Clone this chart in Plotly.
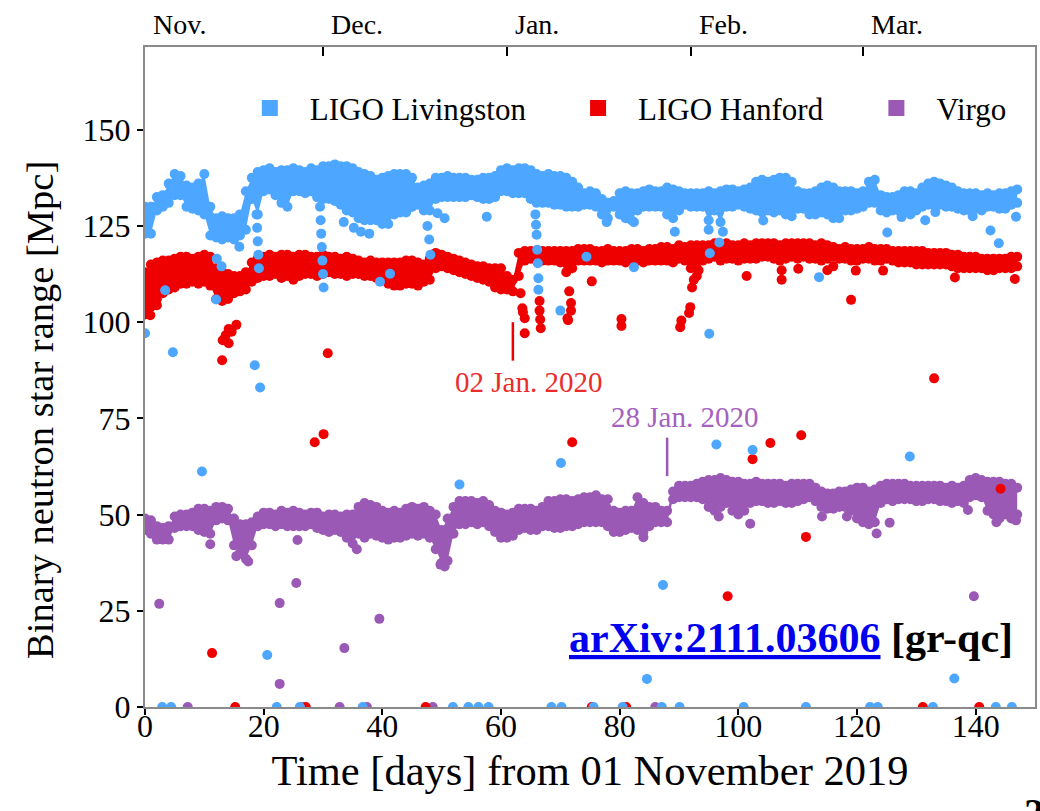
import plotly.graph_objects as go

# ---------------------------------------------------------------------------
# Binary neutron star range of the three detectors during O3b.
# Each detector: daily upper / lower edge of the dense cloud of range samples,
# plus individual excursions (dips, outliers) and samples sitting at 0 Mpc.
# ---------------------------------------------------------------------------
DAYS = list(range(148))

LIV_UPPER = [
    130, 130, 132.5, 133, 136, 138.5, 138, 135.5, 135, 136,
    138.5, 130, 127, 127.5, 127, 127, 128, 134, 137.5, 139,
    139.5, 140, 139, 139.5, 139.5, 140, 139.5, 139, 140, 139.5,
    140.5, 140.5, 141, 140.5, 140.5, 140, 139, 138.5, 138, 137,
    137.5, 138, 138.5, 138.5, 138.5, 137.5, 135, 135.5, 136, 137.5,
    137.5, 138, 137.5, 137.5, 137.5, 137, 137, 137.5, 137.5, 138,
    139.5, 140, 139.5, 140, 140, 139.5, 138.5, 138, 138.5, 138,
    138, 137.5, 136.5, 135, 133.5, 134, 133.5, 132, 131, 131.5,
    133.5, 134, 133.5, 133.5, 134, 134.5, 134, 134, 135, 134.5,
    134, 133.5, 133.5, 133.5, 133.5, 134, 133.5, 134, 134.5, 134.5,
    134, 134.5, 135, 136.5, 137, 136.5, 137, 137.5, 137.5, 136.5,
    134, 133.5, 133.5, 134, 135, 135.5, 135, 134, 134, 134,
    133.5, 134, 136.5, 137, 133, 132.5, 132.5, 133, 134, 134,
    133.5, 135, 136, 136.5, 136, 135.5, 135, 134, 133.5, 133.5,
    133.5, 133, 133.5, 133, 133.5, 133.5, 134, 134.5,
]
LIV_LOWER = [
    123, 123, 129, 130, 131, 133, 133, 130, 129.5, 129,
    128, 122.5, 122, 121.5, 122, 121.5, 122.5, 124, 132, 128,
    134, 134.5, 133, 131, 130, 134, 134, 133.5, 134, 132.5,
    132, 132, 131.5, 130.5, 129, 128.5, 127, 126.5, 126.5, 126.5,
    125.5, 125.5, 128, 128.5, 128.5, 130, 130.5, 129, 129, 132,
    132.5, 132.5, 132.5, 132.5, 132.5, 133, 132.5, 132, 132, 132.5,
    134, 134, 133.5, 133.5, 133.5, 132, 131, 131, 131, 130.5,
    130.5, 130, 130, 130, 130.5, 130.5, 130, 128, 127, 130,
    128, 127, 126.5, 129, 130, 130, 130, 130, 128, 127,
    129, 130.5, 130, 130, 130, 126.5, 129, 126, 130, 130,
    130.5, 130, 129.5, 129, 128.5, 129, 128.5, 129, 128, 127.5,
    129.5, 129.5, 128, 128, 128.5, 128, 127, 127, 129, 129,
    129.5, 130, 131, 131, 129, 128.5, 129, 129, 129, 128,
    129, 130, 130.5, 130.5, 130.5, 130, 130, 129.5, 129, 129,
    129.5, 129, 130, 130, 129.5, 129.5, 130.5, 131,
]
LIV_EXTRA_DAY = [
    0.0, 3.4, 4.7, 9.6, 12.0, 12.1, 12.9, 15.9, 18.5, 18.8, 18.9, 19.0, 19.1,
    19.2, 19.4, 20.6, 29.5, 29.6, 29.7, 29.8, 29.9, 30.0, 30.1, 33.5, 35.2, 36.4,
    37.8, 39.6, 41.3, 45.0, 47.6, 47.9, 48.1, 49.3, 50.5, 53.0, 57.6, 65.8, 65.9,
    66.0, 66.1, 66.2, 66.3, 66.3, 70.0, 70.1, 74.4, 77.8, 82.4, 82.4, 84.6, 87.3,
    89.3, 95.0, 95.1, 95.2, 96.3, 96.8, 97.4, 102.4, 104.2, 113.6, 125.1, 127.5,
    128.9, 131.5, 133.2, 136.4, 139.5, 142.5, 143.9, 146.8,
]
LIV_EXTRA_MPC = [
    97.1, 108.3, 92.2, 61.2, 105.9, 116.5, 114.5, 119.6, 88.8, 128.0, 124.5, 121.0, 117.5,
    114.0, 83.0, 13.5, 130.0, 126.5, 123.0, 119.5, 116.0, 112.5, 109.0, 126.0, 124.5, 123.5,
    123.0, 110.5, 112.6, 130.0, 125.0, 121.5, 117.5, 128.3, 127.0, 57.8, 127.4, 128.0, 125.3,
    122.7, 118.8, 115.3, 111.4, 108.4, 103.0, 63.4, 117.0, 126.0, 114.3, 126.0, 7.3, 31.7,
    123.5, 124.0, 97.0, 117.9, 68.2, 120.7, 123.5, 66.8, 126.4, 111.7, 123.3, 127.3,
    65.1, 126.5, 128.6, 7.4, 127.5, 123.8, 120.5, 127.4,
]
LIV_ZERO_DAYS = [2.9, 4.4, 22.2, 26.1, 36.7, 51.9, 54.5, 56.2, 57.9, 68.5, 70.2,
                 75.6, 80.5, 87.1, 90.1, 100.9, 111.4, 122.2, 123.5, 132.8, 143.4, 146.1]

HAN_UPPER = [
    113, 115, 115.5, 116, 116, 116.5, 117, 117, 116.5, 117,
    117.5, 117, 114, 113, 112.5, 112, 112, 113, 115.5, 116.5,
    117, 117.5, 117, 117.5, 117.5, 117, 117.5, 117.5, 117, 117,
    117.5, 117, 117, 116.5, 117, 116.5, 116, 115.5, 116, 115.5,
    115.5, 115.5, 115.5, 115.5, 116, 116, 115.5, 115, 116.5, 118,
    117.5, 117, 116.5, 116, 115.5, 115, 114.5, 114.5, 114, 114,
    114, 112, 111, 118, 118.5, 118.5, 118.5, 118.5, 118.5, 118.5,
    118.5, 118.5, 118.5, 119, 119, 119, 118.5, 118.5, 119, 118.5,
    118.5, 118.5, 119, 119, 118.5, 119, 119, 119.5, 119.5, 119,
    120, 119.5, 120, 120, 120, 120, 120.5, 120, 120.5, 120,
    120, 120.5, 120, 120.5, 120.5, 120.5, 120.5, 120, 120.5, 120.5,
    120.5, 120.5, 120.5, 120, 120.5, 120, 119.5, 119, 119.5, 119,
    119, 119, 119.5, 119, 119, 119, 118.5, 118.5, 118.5, 118.5,
    118.5, 118.5, 118, 118, 118, 118, 117.5, 117.5, 117, 117,
    117, 116.5, 116.5, 116.5, 116.5, 116.5, 117, 117,
]
HAN_LOWER = [
    102, 104, 106, 107.5, 108.5, 109, 110, 110, 110.5, 110,
    110.5, 109.5, 106, 105.5, 106, 107.5, 108, 108.5, 110.5, 111.5,
    112, 112, 112.5, 111.5, 112, 111, 112, 112.5, 112.5, 112,
    112.5, 113, 112.5, 112.5, 112, 112.5, 112.5, 112, 112, 111.5,
    111, 110, 109.5, 109.5, 110, 110, 109.5, 110.5, 111, 114,
    114.5, 114, 113.5, 113, 112.5, 112, 111.5, 111, 110.5, 109,
    108.5, 108.5, 108, 112, 116, 116.5, 116, 116, 116, 116,
    115.5, 113, 114, 116, 116, 116, 116, 115.5, 116, 116,
    116, 115.5, 116, 116, 115.5, 116, 116, 116, 116, 115.5,
    116.5, 116, 114, 112, 116, 116.5, 117, 116, 116.5, 116.5,
    116, 116.5, 116.5, 116.5, 117, 117, 116.5, 116, 116.5, 117,
    116.5, 117, 116.5, 116.5, 116, 116.5, 117, 116.5, 116.5, 116,
    116, 116.5, 116.5, 116, 116, 116.5, 116, 115.5, 115.5, 115.5,
    115, 115, 115, 115, 115, 115, 114.5, 114, 114, 114,
    114, 114, 113.5, 113.5, 114, 114, 114, 114.5,
]
HAN_EXTRA_DAY = [
    0.9, 2.0, 11.3, 13.0, 13.1, 13.6, 14.1, 14.1, 14.6, 15.4, 28.6, 30.1, 30.8,
    63.3, 63.6, 63.7, 64.0, 64.0, 66.5, 66.5, 66.6, 66.7, 71.2, 71.3, 71.5, 71.8,
    71.8, 72.0, 75.3, 80.3, 80.3, 90.2, 90.4, 91.7, 91.9, 92.2, 92.5, 93.3, 98.2,
    101.4, 102.4, 105.4, 107.3, 107.3, 110.1, 110.6, 111.4, 115.0, 116.0, 119.0,
    119.8, 124.4, 133.0, 136.5, 144.2, 146.6,
]
HAN_EXTRA_MPC = [
    101.8, 104.4, 14.0, 90.1, 95.3, 96.6, 98.2, 94.5, 97.5, 99.3, 68.8, 70.9, 91.9,
    107.5, 103.6, 102.6, 101.0, 97.1, 105.5, 103.0, 100.7, 98.4, 101.0, 100.5, 108.0, 103.0,
    105.0, 68.8, 110.6, 99.0, 100.8, 98.7, 100.4, 102.4, 103.9, 109.0, 111.0, 113.5, 28.8,
    112.0, 64.4, 68.6, 113.5, 111.0, 113.9, 70.6, 44.2, 113.5, 114.5, 105.8,
    113.4, 113.4, 85.4, 111.6, 56.7, 111.2,
]
HAN_ZERO_DAYS = [15.2, 27.1, 47.3, 75.3, 81.1, 131.1, 140.6]

VIR_UPPER = [
    49, 48.5, 47, 46.5, 47, 49.5, 50, 50, 50.5, 51.5,
    51.5, 51, 52, 52, 51.5, 49, 47.5, 47.5, 48, 49.5,
    50.5, 50.5, 50, 51, 50.5, 51, 50.5, 50, 50.5, 50.5,
    49.5, 50, 50, 49.5, 50, 50, 52, 53, 52.5, 52,
    51, 50.5, 51, 50.5, 51.5, 52, 51.5, 52, 51, 50,
    46, 49, 52, 53.5, 53.5, 53.5, 53, 53.5, 52.5, 51,
    50.5, 50, 50.5, 51.5, 51.5, 51.5, 51, 52, 53.5, 53.5,
    54, 54, 53.5, 54, 54.5, 54.5, 55, 54, 54, 51,
    50.5, 51, 51, 54.5, 53, 52, 52, 51, 51, 56,
    57.5, 57.5, 57.5, 58, 58.5, 59, 59, 59.5, 59, 58.5,
    58.5, 58, 58, 58.5, 58, 58, 58, 58, 57.5, 58,
    58, 58, 58, 57, 56, 55.5, 55.5, 56, 56, 56.5,
    57, 57, 56, 56.5, 57.5, 58, 58, 58, 58, 57.5,
    57.5, 57.5, 57.5, 57.5, 57.5, 57, 57.5, 57, 57.5, 59,
    59.5, 59, 58.5, 58.5, 58.5, 58, 58, 57,
]
VIR_LOWER = [
    46, 45, 43.5, 43.5, 43.5, 46.5, 47, 47, 47, 46,
    45.5, 45, 48.5, 49, 48.5, 42, 40, 38.5, 42, 47,
    47.5, 47.5, 47, 47.5, 47, 47, 47, 47, 47.5, 46.5,
    46, 45.5, 46, 45.5, 44, 42.5, 45, 44, 45, 44.5,
    44, 43.5, 44, 44, 44.5, 45, 44.5, 45, 44, 41,
    37.5, 38, 45, 47.5, 47.5, 48, 47.5, 48, 47, 45.5,
    44, 44, 44.5, 46, 46.5, 46, 46, 47, 47, 46.5,
    46.5, 47, 47, 47.5, 48, 48, 48, 48, 47, 45.5,
    45.5, 46, 46.5, 46, 45.5, 47, 48, 48, 48, 54,
    54.5, 54.5, 54.5, 54.5, 54, 52, 51, 52, 53, 51,
    50, 51, 53, 53.5, 53.5, 53, 53, 53.5, 53, 53,
    53.5, 54, 54.5, 53.5, 52, 51.5, 51.5, 52, 52, 51,
    49, 48, 47.5, 48, 53, 54, 53.5, 54, 54, 54,
    53.5, 53.5, 54, 54, 53.5, 53.5, 53, 53.5, 53, 54.5,
    55, 54.5, 51, 50, 49, 50, 49, 50,
]
VIR_EXTRA_DAY = [
    2.4, 11.0, 15.4, 17.4, 22.7, 22.7, 25.5, 25.7, 33.6, 35.7, 39.5, 49.8, 50.5,
    84.0, 96.7, 102.0, 114.1, 118.3, 123.3, 125.5, 138.7, 139.7, 143.5, 146.8,
]
VIR_EXTRA_MPC = [
    26.8, 42.3, 39.2, 37.8, 27.0, 6.0, 32.2, 43.4, 15.3, 41.0, 22.9, 37.0, 36.5,
    44.1, 49.5, 47.6, 49.5, 49.5, 45.1, 47.9, 51.2, 28.8, 48.0, 48.5,
]
VIR_ZERO_DAYS = [7.2, 26.4, 32.8, 37.4, 48.5, 86.0]

# month starts (days after 01 Nov 2019) for the top axis
MONTH_NAMES = ["Nov.", "Dec.", "Jan.", "Feb.", "Mar."]
MONTH_START_DAYS = [0, 30, 61, 92, 121]

# marked dates
JAN02_DAY, JAN02_RANGE = 62, (90, 100)
JAN28_DAY, JAN28_RANGE = 88, (60, 70)

X_TICKS = [0, 20, 40, 60, 80, 100, 120, 140]
Y_TICKS = [0, 25, 50, 75, 100, 125, 150]

BLUE = "#4da6ff"
RED = "#ee0000"
PURPLE = "#9b59b6"
FONT = "Liberation Serif"
MARKER_SIZE = 10

fig = go.Figure()


def add_detector(name, upper, lower, ex_day, ex_mpc, zero_days, color, legend):
    # solid body of the sample cloud between the daily edges
    fig.add_trace(go.Scatter(x=DAYS, y=upper, mode="lines", line=dict(width=0, color=color),
                             showlegend=False, hoverinfo="skip"))
    fig.add_trace(go.Scatter(x=DAYS, y=lower, mode="lines", line=dict(width=0, color=color),
                             fill="tonexty", fillcolor=color, showlegend=False, hoverinfo="skip"))
    # individual samples
    xs = DAYS + DAYS + ex_day + zero_days
    ys = upper + lower + ex_mpc + [0] * len(zero_days)
    fig.add_trace(go.Scatter(x=xs, y=ys, mode="markers",
                             marker=dict(size=MARKER_SIZE, color=color, line=dict(width=0)),
                             showlegend=False, name=name))
    # legend swatch
    fig.add_trace(go.Scatter(x=[None], y=[None], mode="markers", xaxis="x2",
                             marker=dict(symbol="square", size=16, color=color),
                             name=name, legend=legend, showlegend=True))


add_detector("Virgo", VIR_UPPER, VIR_LOWER, VIR_EXTRA_DAY, VIR_EXTRA_MPC, VIR_ZERO_DAYS, PURPLE, "legend3")
add_detector("LIGO Hanford", HAN_UPPER, HAN_LOWER, HAN_EXTRA_DAY, HAN_EXTRA_MPC, HAN_ZERO_DAYS, RED, "legend2")
add_detector("LIGO Livingston", LIV_UPPER, LIV_LOWER, LIV_EXTRA_DAY, LIV_EXTRA_MPC, LIV_ZERO_DAYS, BLUE, "legend")

# date markers
fig.add_shape(type="line", x0=JAN02_DAY, x1=JAN02_DAY, y0=JAN02_RANGE[0], y1=JAN02_RANGE[1],
              line=dict(color=RED, width=2.5))
fig.add_shape(type="line", x0=JAN28_DAY, x1=JAN28_DAY, y0=JAN28_RANGE[0], y1=JAN28_RANGE[1],
              line=dict(color=PURPLE, width=2.5))

annotations = [
    dict(x=64.7, y=84.4, xref="x", yref="y", text="02 Jan. 2020", showarrow=False,
         font=dict(family=FONT, size=29, color="#ec2b2b")),
    dict(x=91.0, y=75.3, xref="x", yref="y", text="28 Jan. 2020", showarrow=False,
         font=dict(family=FONT, size=29, color="#a461c0")),
    dict(x=0.977, y=17.9, xref="paper", yref="y", xanchor="right", yanchor="middle",
         text='<b><span style="color:#0000ee"><u>arXiv:2111.03606</u></span> [gr-qc]</b>',
         showarrow=False, font=dict(family=FONT, size=42, color="black")),
    dict(x=0.999, y=-0.16, xref="paper", yref="paper", xanchor="center", yanchor="middle",
         text="<b>2</b>", showarrow=False, font=dict(family=FONT, size=40, color="black")),
    # y-axis title
    dict(x=-0.118, y=0.45, xref="paper", yref="paper", xanchor="center", yanchor="middle",
         text="Binary neutron star range [Mpc]", textangle=-90, showarrow=False,
         font=dict(family=FONT, size=38.5, color="black")),
]
for name, day in zip(MONTH_NAMES, MONTH_START_DAYS):
    annotations.append(dict(x=day, y=1, xref="x", yref="paper", xanchor="left", yanchor="middle",
                            xshift=6, yshift=23, text=name, showarrow=False,
                            font=dict(family=FONT, size=28, color="black")))

axis_line = dict(showline=True, linecolor="#8a8a8a", linewidth=2, mirror=True,
                 showgrid=False, zeroline=False, ticks="outside", ticklen=6, tickwidth=1.5,
                 tickcolor="black", tickfont=dict(family=FONT, size=32, color="black"))

legend_common = dict(orientation="h", yanchor="middle", y=0.907, xanchor="left",
                     itemwidth=70, bgcolor="rgba(0,0,0,0)",
                     font=dict(family=FONT, size=31, color="black"))

fig.update_layout(
    width=1040, height=811,
    margin=dict(l=145, r=3, t=47, b=104),
    paper_bgcolor="white", plot_bgcolor="white",
    font=dict(family=FONT, color="black"),
    xaxis=dict(range=[0, 150], tickvals=X_TICKS, ticklabelstandoff=-16, **axis_line,
               title=dict(text="Time [days] from 01 November 2019",
                          font=dict(family=FONT, size=42.5), standoff=12)),
    xaxis2=dict(range=[0, 150], overlaying="x", side="top", anchor="y",
                tickvals=MONTH_START_DAYS[1:], ticks="inside", ticklen=9, tickwidth=2,
                tickcolor="black", showticklabels=False, showgrid=False, zeroline=False,
                showline=False),
    yaxis=dict(range=[0, 171.5], tickvals=Y_TICKS, **axis_line),
    legend=dict(x=0.0953, **legend_common),
    legend2=dict(x=0.4641, **legend_common),
    legend3=dict(x=0.7993, **legend_common),
    annotations=annotations,
)

fig.write_html("out.html")
